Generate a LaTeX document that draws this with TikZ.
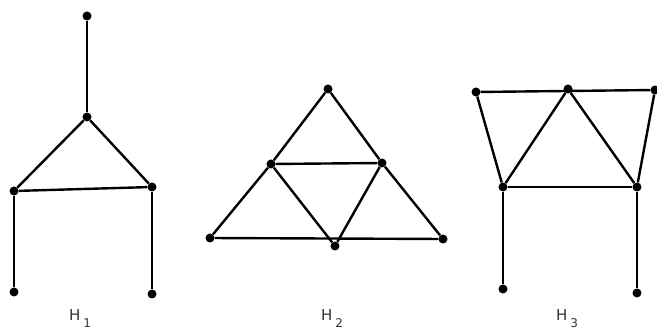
\documentclass[tikz,border=0pt]{standalone}
\usepackage{fontspec}
\setmainfont{DejaVu Sans}
\usetikzlibrary{positioning}

\tikzset{
    vert/.style={circle, fill=black, inner sep=0pt, minimum size=9pt},
    edge/.style={line width=2.4pt},
    glabel/.style={font=\fontsize{15}{17}\selectfont, text=black!80, inner sep=0pt}
}

\begin{document}
\begin{tikzpicture}[x=1pt, y=-1pt]
    \useasboundingbox (0,0) rectangle (657,334);
    % H_1
    \node[vert] (a1) at (87,16) {};
    \node[vert] (b1) at (87,117) {};
    \node[vert] (c1) at (14,191) {};
    \node[vert] (d1) at (152,187) {};
    \node[vert] (e1) at (14,292) {};
    \node[vert] (f1) at (152,294) {};
    \draw[edge] (a1) -- (b1);
    \draw[edge] (b1) -- (c1);
    \draw[edge] (b1) -- (d1);
    \draw[edge] (c1) -- (d1);
    \draw[edge] (c1) -- (e1);
    \draw[edge] (d1) -- (f1);
    \node[glabel, anchor=west] (h1) at (69,319) {H\raisebox{-7pt}{\hspace{3pt}\fontsize{12}{12}\selectfont 1}};
    % H_2
    \node[vert] (a2) at (328,89) {};
    \node[vert] (b2) at (271,164) {};
    \node[vert] (c2) at (382,163) {};
    \node[vert] (d2) at (210,238) {};
    \node[vert] (e2) at (335,246) {};
    \node[vert] (f2) at (443,239) {};
    \draw[edge] (a2) -- (b2);
    \draw[edge] (a2) -- (c2);
    \draw[edge] (b2) -- (c2);
    \draw[edge] (b2) -- (d2);
    \draw[edge] (c2) -- (f2);
    \draw[edge] (d2) -- (f2);
    \draw[edge] (b2) -- (e2);
    \draw[edge] (c2) -- (e2);
    \node[glabel, anchor=west] (h2) at (321,319) {H\raisebox{-7pt}{\hspace{3pt}\fontsize{12}{12}\selectfont 2}};
    % H_3
    \node[vert] (a3) at (476,92) {};
    \node[vert] (b3) at (568,89) {};
    \node[vert] (c3) at (655,90) {};
    \node[vert] (d3) at (503,187) {};
    \node[vert] (e3) at (637,187) {};
    \node[vert] (f3) at (503,289) {};
    \node[vert] (g3) at (637,293) {};
    \draw[edge] (a3) -- (c3);
    \draw[edge] (a3) -- (d3);
    \draw[edge] (b3) -- (d3);
    \draw[edge] (b3) -- (e3);
    \draw[edge] (c3) -- (e3);
    \draw[edge] (d3) -- (e3);
    \draw[edge] (d3) -- (f3);
    \draw[edge] (e3) -- (g3);
    \node[glabel, anchor=west] (h3) at (556,319) {H\raisebox{-7pt}{\hspace{3pt}\fontsize{12}{12}\selectfont 3}};
\end{tikzpicture}
\end{document}
